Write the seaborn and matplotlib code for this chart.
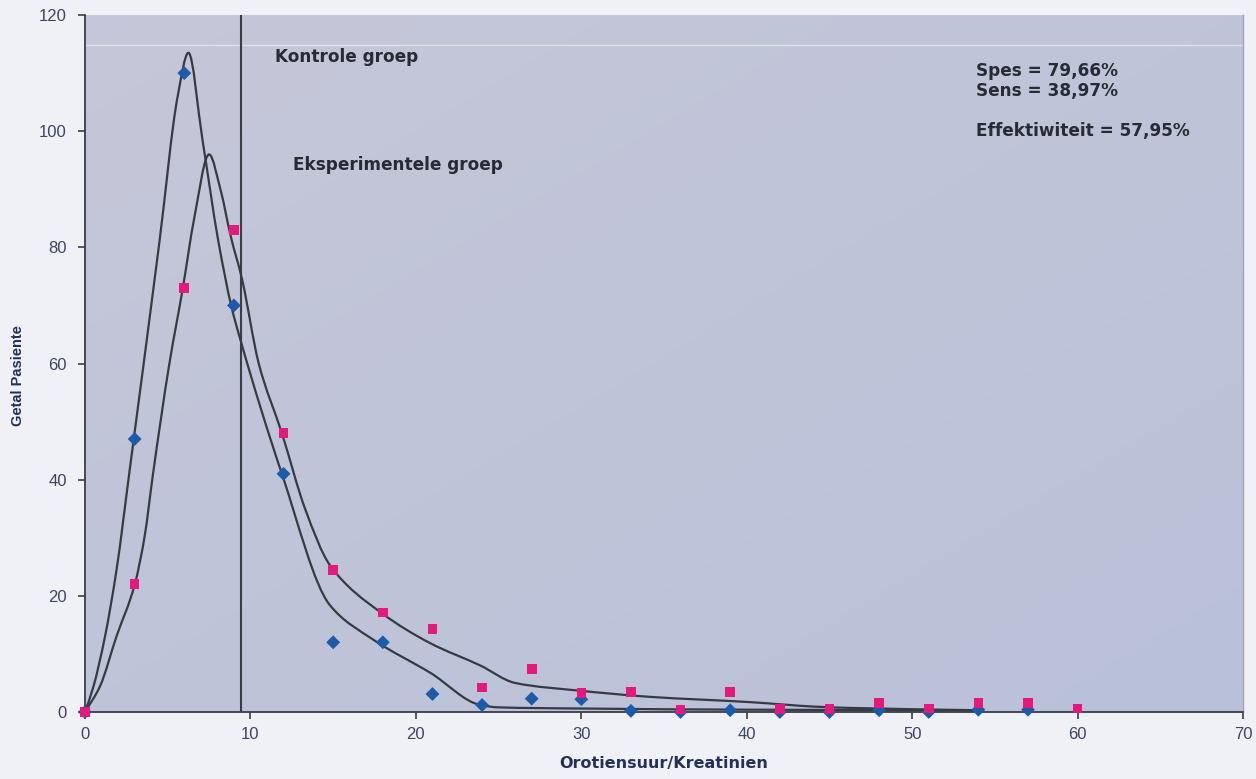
import numpy as np
import pandas as pd
import matplotlib
matplotlib.use("Agg")
import matplotlib.pyplot as plt
from matplotlib.path import Path
from matplotlib.patches import PathPatch
import seaborn as sns

# Measured counts per orotic acid / creatinine bin
control_x = [0, 3, 6, 9, 12, 15, 18, 21, 24, 27, 30, 33, 36, 39, 42, 45, 48, 51, 54, 57]
control_y = [0, 47, 110, 70, 41, 12, 12, 3.1, 1.2, 2.3, 2.2, 0.2, 0, 0.3, 0, 0, 0.3, 0, 0.4, 0.4]

exper_x = [0, 3, 6, 9, 12, 15, 18, 21, 24, 27, 30, 33, 36, 39, 42, 45, 48, 51, 54, 57, 60]
exper_y = [0, 22, 73, 83, 48, 24.5, 17.1, 14.3, 4.2, 7.4, 3.3, 3.4, 0.4, 3.4, 0.5, 0.5, 1.5, 0.6, 1.5, 1.5, 0.6]

# Fitted distribution curves (nodes of the smoothed lines)
control_fit_x = [0, 0.5, 1.2, 1.9, 2.7, 4.5, 5.6, 6.25, 7.1, 8.05, 8.85, 9.4, 11.9,
                 14.8, 17.4, 20.9, 23.9, 25.0, 30.0, 40.0, 54.0]
control_fit_y = [0, 4.3, 12.9, 24.4, 41.7, 81.0, 106.0, 113.5, 98.5, 81.2, 69.8, 64.0, 41.0,
                 18.4, 12.5, 6.7, 1.2, 0.8, 0.6, 0.4, 0.3]

exper_fit_x = [0, 0.9, 1.9, 3.0, 3.6, 4.1, 5.1, 5.9, 6.6, 7.5, 8.2, 8.8, 9.5, 10.5, 11.9,
               13.3, 14.8, 17.9, 20.9, 23.9, 26.0, 29.8, 34.2, 40.2, 44.3, 46.3, 54.0]
exper_fit_y = [0, 4.4, 13.0, 21.9, 30.2, 40.8, 60.0, 72.8, 85.0, 96.0, 89.8, 82.0, 74.4, 60.0, 48.0,
               35.0, 25.3, 17.1, 11.8, 8.0, 5.0, 3.7, 2.6, 1.7, 0.9, 0.7, 0.3]

cutoff = 9.4

x_ticks = [0, 10, 20, 30, 40, 50, 60, 70]
y_ticks = [0, 20, 40, 60, 80, 100, 120]

kontrole_label = "Kontrole groep"
eksperiment_label = "Eksperimentele groep"
stats_lines = ["Spes = 79,66%", "Sens = 38,97%"]
eff_line = "Effektiwiteit = 57,95%"
x_title = "Orotiensuur/Kreatinien"
y_title = "Getal Pasiente"

sns.set_theme(style="white")
plt.rcParams["font.family"] = ["Liberation Sans", "DejaVu Sans"]

fig = plt.figure(figsize=(12.56, 7.79), dpi=100)
fig.patch.set_facecolor("#f0f1f6")
ax = fig.add_axes([0.0677, 0.086, 0.9220, 0.8947])
ax.set_facecolor("#bec2d8")

# soft diagonal shading of the plotting area
top_left = np.array([0.776, 0.780, 0.851])
bottom_right = np.array([0.725, 0.757, 0.850])
gy, gx = np.mgrid[0:1:60j, 0:1:100j]
w = np.clip((gx + gy) / 2.0, 0, 1)[..., None]
shade = top_left * (1 - w) + bottom_right * w
ax.imshow(shade, extent=[0, 70, 0, 120], origin="upper", aspect="auto",
          interpolation="bilinear", zorder=0)


def smooth_path(xs, ys):
    """Monotone cubic (Fritsch-Carlson) curve through the nodes as Bezier segments."""
    x = np.asarray(xs, float)
    y = np.asarray(ys, float)
    h = np.diff(x)
    d = np.diff(y) / h
    m = np.zeros_like(y)
    m[0], m[-1] = d[0], d[-1]
    for i in range(1, len(x) - 1):
        if d[i - 1] * d[i] <= 0:
            m[i] = 0.0
        else:
            w1 = 2 * h[i] + h[i - 1]
            w2 = h[i] + 2 * h[i - 1]
            m[i] = (w1 + w2) / (w1 / d[i - 1] + w2 / d[i])
    verts = [(x[0], y[0])]
    codes = [Path.MOVETO]
    for i in range(len(x) - 1):
        verts += [(x[i] + h[i] / 3, y[i] + m[i] * h[i] / 3),
                  (x[i + 1] - h[i] / 3, y[i + 1] - m[i + 1] * h[i] / 3),
                  (x[i + 1], y[i + 1])]
        codes += [Path.CURVE4] * 3
    return Path(verts, codes)


curve_color = "#363a44"
for fx, fy in [(control_fit_x, control_fit_y), (exper_fit_x, exper_fit_y)]:
    patch = PathPatch(smooth_path(fx, fy), facecolor="none", edgecolor=curve_color,
                      lw=1.6, transform=ax.transData, zorder=3, clip_on=True)
    ax.add_patch(patch)

# cut-off value
ax.axvline(cutoff, color="#3a3d46", lw=1.5, zorder=2)

# faint streak across the top of the plotting area
ax.axhline(114.8, color="#e6e7f0", lw=1.0, alpha=0.8, zorder=1)

control_df = pd.DataFrame({"x": control_x, "y": control_y})
exper_df = pd.DataFrame({"x": exper_x, "y": exper_y})

sns.scatterplot(data=control_df, x="x", y="y", marker="D", s=50, color="#1d5ba8",
                edgecolor="none", ax=ax, zorder=4, clip_on=False)
sns.scatterplot(data=exper_df, x="x", y="y", marker="s", s=48, color="#e3197b",
                edgecolor="none", ax=ax, zorder=5, clip_on=False)

ax.set_xlim(0, 70)
ax.set_ylim(0, 120)
ax.set_xticks(x_ticks)
ax.set_yticks(y_ticks)
ax.tick_params(axis="both", which="major", length=5, width=1.2, color="#3a3d46",
               labelsize=12, labelcolor="#3e4563", direction="out")
ax.tick_params(axis="x", bottom=True, pad=6)
ax.tick_params(axis="y", left=True, pad=8)

for side in ["left", "bottom"]:
    ax.spines[side].set_color("#3a3d46")
    ax.spines[side].set_linewidth(1.3)
ax.spines["right"].set_color("#a2a4b4")
ax.spines["right"].set_linewidth(1.0)
ax.spines["top"].set_visible(False)

ax.set_xlabel(x_title, fontsize=11.5, fontweight="bold", color="#24305a", labelpad=10,
              family=["DejaVu Sans"])
ax.set_ylabel(y_title, fontsize=10.5, fontweight="bold", color="#24305a")
ax.yaxis.set_label_coords(-0.052, 0.483)

text_color = "#272b36"
note_kw = dict(fontsize=12.2, fontweight="bold", color=text_color, ha="left", va="center",
               family=["DejaVu Sans"])
ax.text(11.5, 112.7, kontrole_label, **note_kw)
ax.text(12.6, 94.1, eksperiment_label, **note_kw)
ax.text(53.85, 110.3, stats_lines[0], **note_kw)
ax.text(53.85, 107.0, stats_lines[1], **note_kw)
ax.text(53.85, 100.0, eff_line, **note_kw)

fig.savefig("out.png", dpi=100, facecolor=fig.get_facecolor())
